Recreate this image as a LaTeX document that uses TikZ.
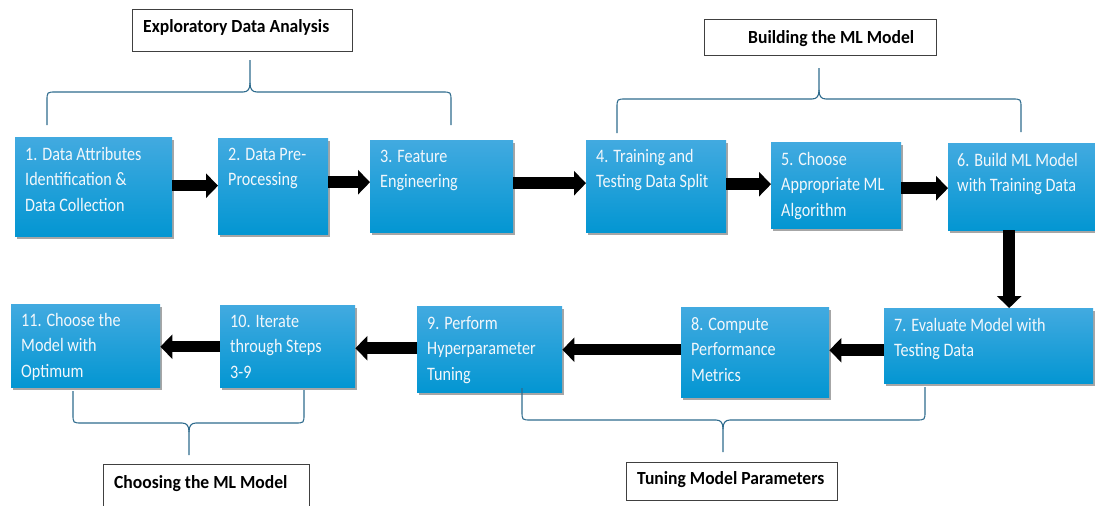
\documentclass[tikz,border=0pt]{standalone}
\usepackage{fontspec}
\setmainfont{Carlito}
\newfontfamily\stepfont[FakeStretch=0.85]{Carlito}
\newfontfamily\labfont[FakeStretch=0.95]{Carlito}
\usetikzlibrary{arrows.meta,shadows}
\definecolor{boxtop}{HTML}{42AAE0}
\definecolor{boxbot}{HTML}{0396D2}
\definecolor{bracec}{HTML}{2E6B8D}
\definecolor{steptxt}{HTML}{F2F7FB}
\begin{document}
\begin{tikzpicture}[x=1pt,y=-1pt,
  stepbox/.style={draw=none, top color=boxtop, bottom color=boxbot, anchor=north west, inner sep=0pt,
    drop shadow={shadow xshift=2pt, shadow yshift=-3pt, opacity=0.35, fill=black}},
  steptext/.style={anchor=base west, text=steptxt, inner sep=0pt, font=\stepfont\fontsize{19}{25.5}\selectfont},
  flow/.style={line width=11.5pt, -{Triangle[length=12pt,width=24pt]}},
  brace/.style={draw=bracec, line width=1.1pt},
  labelbox/.style={draw=black!75, line width=0.8pt, fill=white, anchor=north west, inner sep=0pt},
  labeltext/.style={anchor=base west, inner sep=0pt, font=\labfont\bfseries\fontsize{18.5}{20}\selectfont}]
\useasboundingbox (0,0) rectangle (1095,506);

% step boxes
\node[stepbox, minimum width=157pt, minimum height=99pt] (b1) at (15,137) {};
\node[stepbox, minimum width=110pt, minimum height=96pt] (b2) at (218,138) {};
\node[stepbox, minimum width=143pt, minimum height=92pt] (b3) at (370,140) {};
\node[stepbox, minimum width=140pt, minimum height=92pt] (b4) at (586,140) {};
\node[stepbox, minimum width=130pt, minimum height=86pt] (b5) at (771,142) {};
\node[stepbox, minimum width=150pt, minimum height=87pt] (b6) at (948,143) {};
\node[stepbox, minimum width=209pt, minimum height=75pt] (b7) at (884,308) {};
\node[stepbox, minimum width=148pt, minimum height=90pt] (b8) at (681,307) {};
\node[stepbox, minimum width=145pt, minimum height=86pt] (b9) at (417,306) {};
\node[stepbox, minimum width=135pt, minimum height=82pt] (b10) at (220,305) {};
\node[stepbox, minimum width=149pt, minimum height=83pt] (b11) at (11,304) {};

% step texts
\node[steptext] (t1) at (25,160) {\parbox[t]{150pt}{1. Data Attributes\\Identification \&\\Data Collection}};
\node[steptext] (t2) at (228,160) {\parbox[t]{150pt}{2. Data Pre-\\Processing}};
\node[steptext] (t3) at (380,162) {\parbox[t]{150pt}{3. Feature\\Engineering}};
\node[steptext] (t4) at (596,162) {\parbox[t]{150pt}{4. Training and\\Testing Data Split}};
\node[steptext] (t5) at (781,165) {\parbox[t]{150pt}{5. Choose\\Appropriate ML\\Algorithm}};
\node[steptext] (t6) at (957,166) {\parbox[t]{150pt}{6. Build ML Model\\with Training Data}};
\node[steptext] (t7) at (894,331) {\parbox[t]{200pt}{7. Evaluate Model with\\Testing Data}};
\node[steptext] (t8) at (691,330) {\parbox[t]{150pt}{8. Compute\\Performance\\Metrics}};
\node[steptext] (t9) at (427,329) {\parbox[t]{150pt}{9. Perform\\Hyperparameter\\Tuning}};
\node[steptext] (t10) at (230,327) {\parbox[t]{150pt}{10. Iterate\\through Steps\\3-9}};
\node[steptext] (t11) at (21,326) {\parbox[t]{150pt}{11. Choose the\\Model with\\Optimum}};

% flow arrows
\draw[flow] ([yshift=1pt]b1.east) coordinate (s1) -- (s1 -| b2.west);
\draw[flow] ([yshift=4pt]b2.east) coordinate (s2) -- (s2 -| b3.west);
\draw[flow] ([yshift=3pt]b3.east) coordinate (s3) -- (s3 -| b4.west);
\draw[flow] ([yshift=2pt]b4.east) coordinate (s4) -- (s4 -| b5.west);
\draw[flow] ([yshift=-3pt]b5.east) coordinate (s5) -- (s5 -| b6.west);
\draw[flow] ([xshift=-14pt]b6.south) coordinate (s6) -- (s6 |- b7.north);
\draw[flow] ([yshift=-4.5pt]b7.west) coordinate (s7) -- (s7 -| b8.east);
\draw[flow] ([yshift=2.5pt]b8.west) coordinate (s8) -- (s8 -| b9.east);
\draw[flow] ([yshift=1pt]b9.west) coordinate (s9) -- (s9 -| b10.east);
\draw[flow] ([yshift=-0.5pt]b10.west) coordinate (s10) -- (s10 -| b11.east);

% braces (top)
\draw[brace] (47,125) -- (47,101) .. controls (47,92) .. (56,92) -- (243,92)
  .. controls (248,92) and (250,89) .. (250,83) -- (250,60);
\draw[brace] (250,83) .. controls (250,89) and (252,92) .. (257,92) -- (442,92)
  .. controls (451,92) .. (451,101) -- (451,125);
\draw[brace] (617,133) -- (617,108) .. controls (617,99) .. (626,99) -- (812,99)
  .. controls (817,99) and (819,96) .. (819,90) -- (819,68);
\draw[brace] (819,90) .. controls (819,96) and (821,99) .. (826,99) -- (1012,99)
  .. controls (1021,99) .. (1021,108) -- (1021,132);
% braces (bottom)
\draw[brace] (73,391) -- (73,414) .. controls (73,423) .. (82,423) -- (182,423)
  .. controls (187,423) and (189,426) .. (189,432) -- (189,455);
\draw[brace] (189,432) .. controls (189,426) and (191,423) .. (196,423) -- (295,423)
  .. controls (304,423) .. (304,414) -- (304,390);
\draw[brace] (522,388) -- (522,411) .. controls (522,420) .. (531,420) -- (716,420)
  .. controls (721,420) and (723,423) .. (723,429) -- (723,452);
\draw[brace] (723,429) .. controls (723,423) and (725,420) .. (730,420) -- (916,420)
  .. controls (925,420) .. (925,411) -- (925,387);

% label boxes
\node[labelbox, minimum width=220pt, minimum height=42pt] (l1) at (132,9) {};
\node[labeltext] (lt1) at (143,32) {Exploratory Data Analysis};
\node[labelbox, minimum width=232pt, minimum height=36pt] (l2) at (704,19) {};
\node[labeltext] (lt2) at (748,43) {Building the ML Model};
\node[labelbox, minimum width=206pt, minimum height=50pt] (l3) at (103,464) {};
\node[labeltext] (lt3) at (114,488) {Choosing the ML Model};
\node[labelbox, minimum width=211pt, minimum height=38pt] (l4) at (626,462) {};
\node[labeltext] (lt4) at (637,484) {Tuning Model Parameters};
\end{tikzpicture}
\end{document}
